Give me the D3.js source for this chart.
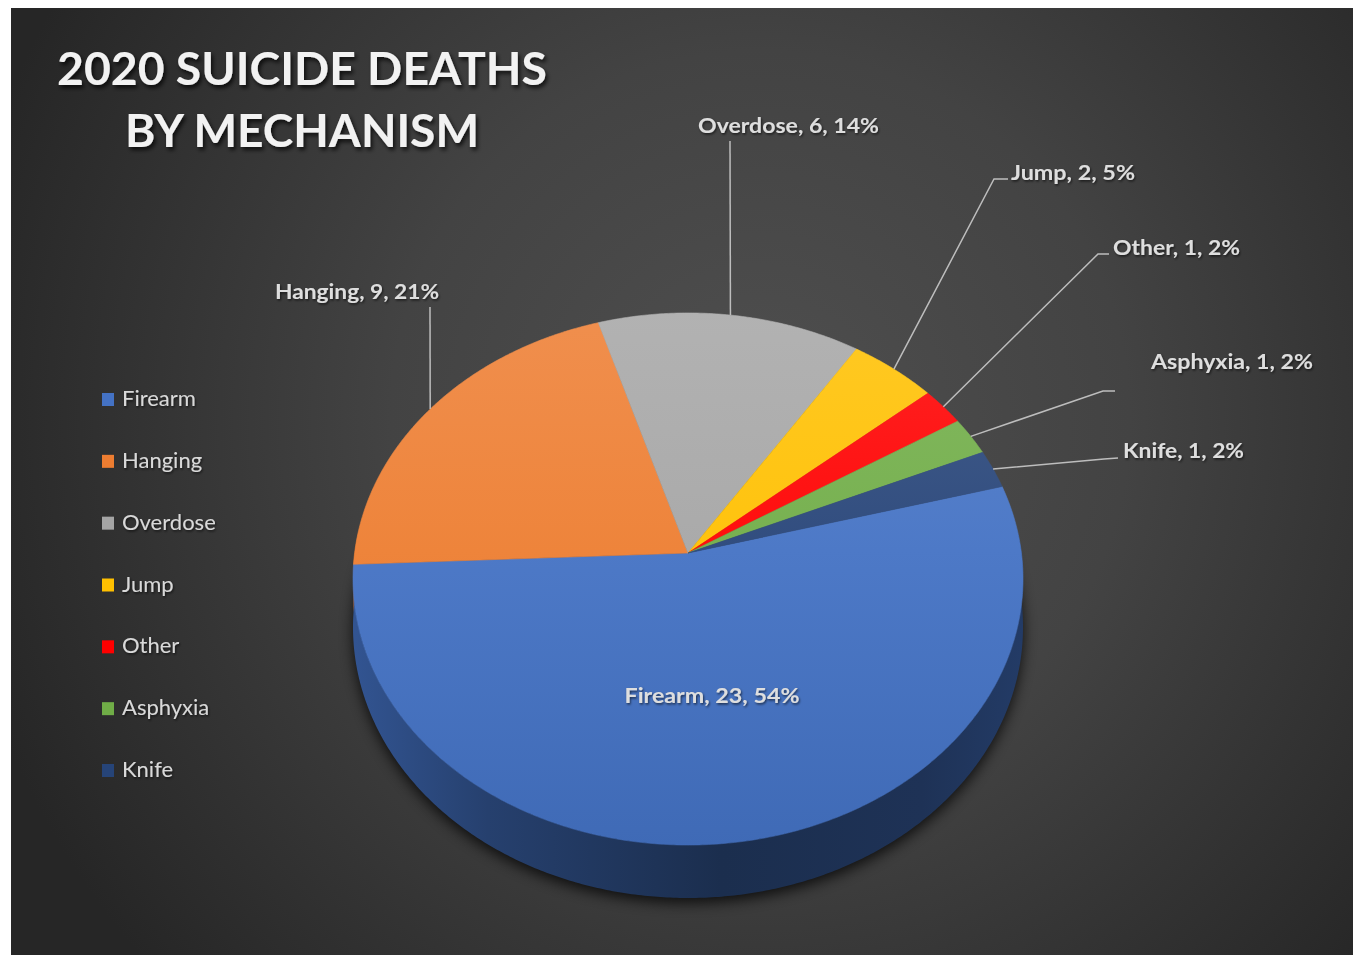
<!DOCTYPE html>
<html>
<head>
<meta charset="utf-8">
<script src="https://cdn.jsdelivr.net/npm/d3@7"></script>
<style>
  html, body { margin: 0; padding: 0; background: #ffffff; }
  svg { display: block; }
  text { font-family: Lato, "Open Sans", sans-serif; }
</style>
</head>
<body>
<svg id="chart" width="1358" height="955"></svg>
<script>
// ---- data ----
const categories = ["Firearm", "Hanging", "Overdose", "Jump", "Other", "Asphyxia", "Knife"];
const values = [23, 9, 6, 2, 1, 1, 1];
const colors = ["#4472c4", "#ed7d31", "#a5a5a5", "#ffc000", "#ff0000", "#70ad47", "#264478"];
const titleLines = ["2020 SUICIDE DEATHS", "BY MECHANISM"];

// ---- layout ----
const W = 1358, H = 955;
const firstSliceAngle = 75;           // degrees, clockwise from 12 o'clock
const cx = 688, cy = 553;             // projected pie centre
const A = 333.4, B = 263.5, K = 0.0977, DEPTH = 47.8;

const svg = d3.select("#chart");
const defs = svg.append("defs");

// background
const bg = defs.append("radialGradient").attr("id", "bg")
  .attr("gradientUnits", "userSpaceOnUse")
  .attr("cx", 760).attr("cy", 420).attr("r", 820);
bg.append("stop").attr("offset", 0).attr("stop-color", "#4f4f4f");
bg.append("stop").attr("offset", 0.45).attr("stop-color", "#434343");
bg.append("stop").attr("offset", 1).attr("stop-color", "#262626");
svg.append("rect").attr("x", 11).attr("y", 8).attr("width", 1342).attr("height", 947)
  .attr("fill", "url(#bg)");

// filters
const sh = defs.append("filter").attr("id", "pieShadow")
  .attr("x", "-20%").attr("y", "-20%").attr("width", "140%").attr("height", "140%");
sh.append("feGaussianBlur").attr("stdDeviation", 7);
const ts = defs.append("filter").attr("id", "textShadow")
  .attr("x", "-10%").attr("y", "-30%").attr("width", "120%").attr("height", "160%");
ts.append("feDropShadow").attr("dx", 2).attr("dy", 3).attr("stdDeviation", 2)
  .attr("flood-color", "#000").attr("flood-opacity", 0.75);
const ls = defs.append("filter").attr("id", "lblShadow")
  .attr("x", "-10%").attr("y", "-30%").attr("width", "120%").attr("height", "160%");
ls.append("feDropShadow").attr("dx", 1).attr("dy", 1.5).attr("stdDeviation", 1)
  .attr("flood-color", "#000").attr("flood-opacity", 0.6);

// perspective projection of a point on the unit circle (angle deg clockwise from back)
function proj(deg, drop) {
  const r = deg * Math.PI / 180;
  const X = Math.sin(r), Z = -Math.cos(r);
  const w = 1 - K * Z;
  return [cx + A * X / w, cy + (B * Z + (drop || 0)) / w];
}
function arcPts(a0, a1, drop) {
  const pts = [];
  const n = Math.max(2, Math.ceil(Math.abs(a1 - a0) / 0.5));
  for (let i = 0; i <= n; i++) pts.push(proj(a0 + (a1 - a0) * i / n, drop));
  return pts;
}
const line = d3.line();

const total = d3.sum(values);
// percentages rounded so that they add up to 100 (largest remainder)
const rawPct = values.map(v => v / total * 100);
const pcts = rawPct.map(Math.floor);
let missing = 100 - d3.sum(pcts);
d3.range(values.length)
  .sort((a, b) => (rawPct[b] - pcts[b]) - (rawPct[a] - pcts[a]))
  .slice(0, missing).forEach(i => pcts[i] += 1);

const pie = d3.pie().sort(null).value(d => d)
  .startAngle(firstSliceAngle * Math.PI / 180)
  .endAngle((firstSliceAngle + 360) * Math.PI / 180);
const arcs = pie(values).map((p, i) => ({
  i, name: categories[i], value: values[i], color: colors[i], pct: pcts[i],
  a0: p.startAngle * 180 / Math.PI, a1: p.endAngle * 180 / Math.PI
}));

// shadow under the pie
const bottomAll = arcPts(0, 360, DEPTH);
svg.append("path").attr("d", line(bottomAll) + "Z")
  .attr("transform", "translate(0,5)")
  .attr("fill", "#000").attr("opacity", 0.75).attr("filter", "url(#pieShadow)");

// side walls (front half only)
arcs.forEach(s => {
  const segs = [];
  [[85, 275], [445, 635]].forEach(([f0, f1]) => {
    const lo = Math.max(s.a0, f0), hi = Math.min(s.a1, f1);
    if (hi > lo) segs.push([lo, hi]);
  });
  const c = d3.color(s.color);
  const gid = "side" + s.i;
  const g = defs.append("linearGradient").attr("id", gid)
    .attr("gradientUnits", "userSpaceOnUse")
    .attr("x1", cx - A).attr("y1", 0).attr("x2", cx + A).attr("y2", 0);
  const mul = f => d3.rgb(c.r * f, c.g * f, c.b * f).toString();
  g.append("stop").attr("offset", 0).attr("stop-color", mul(0.74));
  g.append("stop").attr("offset", 0.2).attr("stop-color", mul(0.56));
  g.append("stop").attr("offset", 0.55).attr("stop-color", mul(0.40));
  g.append("stop").attr("offset", 0.85).attr("stop-color", mul(0.44));
  g.append("stop").attr("offset", 1).attr("stop-color", mul(0.52));
  segs.forEach(([lo, hi]) => {
    const top = arcPts(lo, hi, 0);
    const bot = arcPts(lo, hi, DEPTH).reverse();
    svg.append("path").attr("d", line(top.concat(bot)) + "Z")
      .attr("fill", "url(#" + gid + ")");
  });
});

// top faces
arcs.forEach(s => {
  const gid = "top" + s.i;
  const g = defs.append("linearGradient").attr("id", gid)
    .attr("gradientUnits", "userSpaceOnUse")
    .attr("x1", 0).attr("y1", cy - 245).attr("x2", 0).attr("y2", cy + 295);
  g.append("stop").attr("offset", 0).attr("stop-color", d3.interpolateRgb(s.color, "#ffffff")(0.14));
  g.append("stop").attr("offset", 0.45).attr("stop-color", d3.interpolateRgb(s.color, "#ffffff")(0.05));
  g.append("stop").attr("offset", 1).attr("stop-color", d3.interpolateRgb(s.color, "#000000")(0.07));
  const pts = [[cx, cy]].concat(arcPts(s.a0, s.a1, 0));
  svg.append("path").attr("d", line(pts) + "Z")
    .attr("fill", "url(#" + gid + ")")
    .attr("stroke", "url(#" + gid + ")").attr("stroke-width", 0.6)
    .attr("stroke-linejoin", "round");
});

// data labels
const labelLayout = {
  Firearm:  { x: 712,  y: 703, anchor: "middle", len: 175, leader: null },
  Hanging:  { x: 275,  y: 299, anchor: "start",  len: 164, leader: [[430, 307]] },
  Overdose: { x: 698,  y: 133, anchor: "start",  len: 181, leader: [[730, 141]] },
  Jump:     { x: 1011, y: 180, anchor: "start",  len: 124, leader: [[1008, 179], [994, 179]] },
  Other:    { x: 1113, y: 255, anchor: "start",  len: 127, leader: [[1109, 254], [1098, 254]] },
  Asphyxia: { x: 1151, y: 369, anchor: "start",  len: 162, leader: [[1115, 391], [1103, 391]] },
  Knife:    { x: 1123, y: 458, anchor: "start",  len: 121, leader: [[1118, 458], [1104, 459]] }
};

arcs.forEach(s => {
  const L = labelLayout[s.name];
  if (L.leader) {
    const mid = (s.a0 + s.a1) / 2;
    const anchor = proj(mid, 0);
    svg.append("path").attr("d", line(L.leader.concat([anchor])))
      .attr("fill", "none").attr("stroke", "#bdbdbd").attr("stroke-width", 1.5);
  }
  svg.append("text")
    .attr("x", L.x).attr("y", L.y)
    .attr("text-anchor", L.anchor)
    .attr("font-size", 21).attr("font-weight", 700)
    .attr("fill", "#dedede")
    .attr("filter", "url(#lblShadow)")
    .attr("textLength", L.len).attr("lengthAdjust", "spacingAndGlyphs")
    .text(`${s.name}, ${s.value}, ${s.pct}%`);
});

// legend
const legend = svg.append("g");
const legendY = d3.scalePoint().domain(categories).range([406, 777]);
categories.forEach((name, i) => {
  const y = legendY(name);
  legend.append("rect").attr("x", 102).attr("y", y - 13).attr("width", 12).attr("height", 13)
    .attr("fill", colors[i]);
  legend.append("text").attr("x", 122).attr("y", y)
    .attr("font-size", 22).attr("fill", "#d9d9d9")
    .attr("filter", "url(#lblShadow)")
    .text(name);
});

// title
const titleLayout = [{ y: 85, len: 490 }, { y: 147, len: 354 }];
titleLines.forEach((t, i) => {
  svg.append("text")
    .attr("x", 302).attr("y", titleLayout[i].y)
    .attr("text-anchor", "middle")
    .attr("font-size", 46).attr("font-weight", 700)
    .attr("fill", "#f2f2f2")
    .attr("filter", "url(#textShadow)")
    .attr("textLength", titleLayout[i].len).attr("lengthAdjust", "spacingAndGlyphs")
    .text(t);
});
</script>
</body>
</html>
